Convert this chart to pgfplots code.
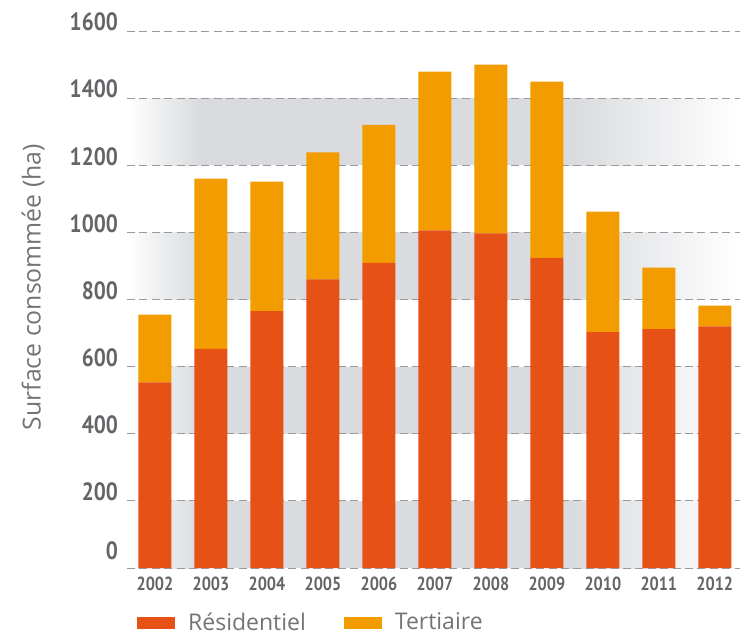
\documentclass[border=0pt]{standalone}
\usepackage{fontspec}
\setmainfont{Open Sans}
\newfontfamily\ticksfont{PT Sans}[FakeStretch=0.85]
\usepackage{pgfplots}
\pgfplotsset{compat=1.18}
\definecolor{resid}{HTML}{E65215}
\definecolor{tert}{HTML}{F39C00}
\definecolor{txtgray}{HTML}{737477}
\definecolor{tickgray}{HTML}{646568}
\definecolor{gridgray}{HTML}{9A9A9A}
\definecolor{bandgray}{HTML}{D9DBDE}

% totals, residential + tertiary
\pgfplotstableread{
x res ter
0 553 202
1 653 507
2 765 386
3 860 378
4 909 411
5 1006 473
6 997 503
7 924 525
8 703 359
9 712 183
10 720 62
}\surfdata

\pgfplotsset{frame/.style={scale only axis, width=306.5pt, height=268.5pt,
  xmin=-0.5, xmax=10.45, ymin=0, ymax=1600}}

\newcommand\band[2]{%
  \fill[left color=white, right color=bandgray, draw=none] (axis cs:-0.5,#1) rectangle (axis cs:0.8,#2);
  \fill[bandgray] (axis cs:0.79,#1) rectangle (axis cs:7.41,#2);
  \fill[left color=bandgray, right color=white, draw=none] (axis cs:7.4,#1) rectangle (axis cs:10.45,#2);}

\begin{document}
\begin{tikzpicture}
% background bands
\begin{axis}[frame, hide axis]
  \band{0}{200}
  \band{400}{600}
  \band{800}{1000}
  \band{1200}{1400}
\end{axis}
\begin{axis}[
  frame,
  ybar stacked, bar width=16.5pt,
  axis line style={draw=none},
  major tick style={draw=none},
  ymajorgrids,
  grid style={gridgray, line width=0.5pt, dash pattern=on 4pt off 2.2pt},
  ytick={0,200,...,1600},
  yticklabels={\raisebox{8.5pt}{0},200,400,600,800,1000,1200,1400,1600},
  yticklabel style={font=\ticksfont\bfseries\fontsize{12.5}{12.5}\selectfont, text=tickgray, yshift=4.5pt, xshift=-1pt},
  xtick={0,...,10},
  xticklabels={2002,2003,2004,2005,2006,2007,2008,2009,2010,2011,2012},
  xticklabel style={font=\ticksfont\bfseries\fontsize{9.5}{9.5}\selectfont, text=tickgray, yshift=-1pt},
  /pgf/number format/assume math mode=true,
  ylabel={Surface consommée (ha)},
  ylabel style={font=\fontsize{12.4}{12.4}\selectfont, text=txtgray, at={(axis description cs:-0.1533,0.523)}, anchor=center},
  legend columns=2,
  legend style={at={(axis description cs:0.016,0)}, anchor=west, yshift=-27.5pt, draw=none, fill=none, inner sep=0pt,
    nodes={inner sep=0pt, anchor=west, font=\fontsize{11.5}{11.5}\selectfont, text=txtgray}},
  /tikz/every odd column/.append style={column sep=6.5pt},
  /tikz/every even column/.append style={column sep=19pt},
  legend image code/.code={\fill[#1] (0pt,-3pt) rectangle (19pt,3pt);},
]
\addplot[fill=resid, draw=none] table[x=x, y=res] {\surfdata};
\addlegendentry{Résidentiel}
\addplot[fill=tert, draw=none] table[x=x, y=ter] {\surfdata};
\addlegendentry{Tertiaire}
\end{axis}
\pgfresetboundingbox
\path[use as bounding box] (current axis.south west) ++(-63.5pt,-32.5pt) rectangle ([shift={(3pt,15.5pt)}]current axis.north east);
\end{tikzpicture}
\end{document}
